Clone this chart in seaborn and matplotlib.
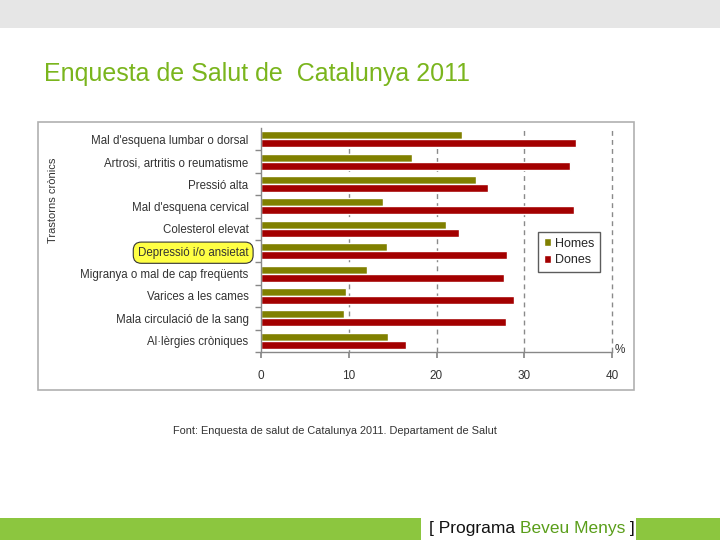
import matplotlib
matplotlib.use("Agg")
import matplotlib.pyplot as plt
from matplotlib.patches import Rectangle
import seaborn as sns
import pandas as pd

categories = [
    "Mal d'esquena lumbar o dorsal",
    "Artrosi, artritis o reumatisme",
    "Pressió alta",
    "Mal d'esquena cervical",
    "Colesterol elevat",
    "Depressió i/o ansietat",
    "Migranya o mal de cap freqüents",
    "Varices a les cames",
    "Mala circulació de la sang",
    "Al·lèrgies cròniques",
]
homes = [22.9, 17.2, 24.5, 13.9, 21.1, 14.4, 12.1, 9.7, 9.5, 14.5]
dones = [35.9, 35.2, 25.9, 35.7, 22.6, 28.0, 27.7, 28.8, 27.9, 16.5]
series = ["Homes", "Dones"]
xticks = [0, 10, 20, 30, 40]

df = pd.DataFrame({
    "cat": categories * 2,
    "val": homes + dones,
    "sexe": [series[0]] * len(categories) + [series[1]] * len(categories),
})

sns.set_theme(style="white")
plt.rcParams["font.family"] = ["Liberation Sans", "DejaVu Sans"]

W, H = 720, 540
fig = plt.figure(figsize=(7.2, 5.4), dpi=100)
fig.patch.set_facecolor("white")

def fx(px):
    return px / W

def fy(py):
    return 1 - py / H

# top grey band
fig.patches.append(Rectangle((0, fy(28)), 1, 28 / H, transform=fig.transFigure,
                             facecolor="#e6e6e6", edgecolor="none", zorder=-5))
# chart frame
fig.patches.append(Rectangle((fx(38), fy(390)), fx(634 - 38), (390 - 122) / H,
                             transform=fig.transFigure, facecolor="white",
                             edgecolor="#b0b0b0", lw=1.2, zorder=-5))
# bottom green band
fig.patches.append(Rectangle((0, 0), fx(421), 22 / H, transform=fig.transFigure,
                             facecolor="#8cc63f", edgecolor="none", zorder=-5))
fig.patches.append(Rectangle((fx(636), 0), fx(720 - 636), 22 / H, transform=fig.transFigure,
                             facecolor="#8cc63f", edgecolor="none", zorder=-5))

fig.text(fx(44), fy(74), "Enquesta de Salut de  Catalunya 2011", fontsize=18,
         color="#7ab51d", ha="left", va="center")

ax = fig.add_axes([fx(261), fy(352), fx(612 - 261), (352 - 128) / H])
ax.set_zorder(5)
ax.patch.set_alpha(0)
palette = {"Homes": "#808000", "Dones": "#a30000"}
sns.barplot(data=df, y="cat", x="val", hue="sexe", orient="h", palette=palette,
            width=0.72, ax=ax, saturation=1)

ax.set_xlim(0, 40)
ax.set_ylim(len(categories) - 0.5, -0.5)
ax.set_xticks(xticks)
ax.set_xticklabels([str(t) for t in xticks], fontsize=8.5, color="#333333")
ax.set_xlabel("")
ax.set_ylabel("")
ax.tick_params(axis="x", length=4, color="#888888", pad=9, direction="out", bottom=True)
ax.tick_params(axis="y", which="major", length=0, labelsize=8.3, labelcolor="#333333", pad=9)
ax.set_yticks([i + 0.5 for i in range(len(categories))], minor=True)
ax.tick_params(axis="y", which="minor", length=4, color="#888888", left=True)
for x in xticks[1:]:
    ax.axvline(x, color="#8a8a8a", lw=1.0, ls=(0, (3.5, 3)), zorder=0, clip_on=False)
for s in ["top", "right"]:
    ax.spines[s].set_visible(False)
for s in ["left", "bottom"]:
    ax.spines[s].set_color("#888888")
    ax.spines[s].set_linewidth(1.0)

for lbl in ax.get_yticklabels():
    if lbl.get_text().startswith("Depressió"):
        lbl.set_bbox(dict(boxstyle="round,pad=0.4,rounding_size=0.7",
                          facecolor="#ffff44", edgecolor="#333333", lw=0.8))

leg = ax.legend(loc="upper left", bbox_to_anchor=((538 - 261) / 351, (352 - 232) / 224),
                borderaxespad=0, frameon=True, fancybox=False, fontsize=9,
                handlelength=0.6, handleheight=0.6, handletextpad=0.3,
                borderpad=0.45, labelspacing=0.35)
leg.get_frame().set_edgecolor("#333333")
leg.get_frame().set_linewidth(1.0)

fig.text(fx(53), fy(200), "Trastorns crònics", rotation=90, fontsize=8,
         color="#333333", ha="center", va="center")
fig.text(fx(620), fy(350), "%", fontsize=8.5, color="#333333", ha="center", va="center")
fig.text(fx(335), fy(431), "Font: Enquesta de salut de Catalunya 2011. Departament de Salut",
         fontsize=7.9, color="#333333", ha="center", va="center")

t1 = fig.text(fx(429), fy(529), "[ Programa ", fontsize=12.5, color="#111111",
              ha="left", va="center", fontstretch="condensed")
fig.canvas.draw()
bb = t1.get_window_extent()
t2 = fig.text(bb.x1 / W, fy(529), "Beveu Menys", fontsize=12.5, color="#5a9e1a",
              ha="left", va="center", fontstretch="condensed")
fig.canvas.draw()
bb2 = t2.get_window_extent()
fig.text(bb2.x1 / W, fy(529), " ]", fontsize=12.5, color="#111111",
         ha="left", va="center", fontstretch="condensed")

fig.savefig("out.png", dpi=100)
